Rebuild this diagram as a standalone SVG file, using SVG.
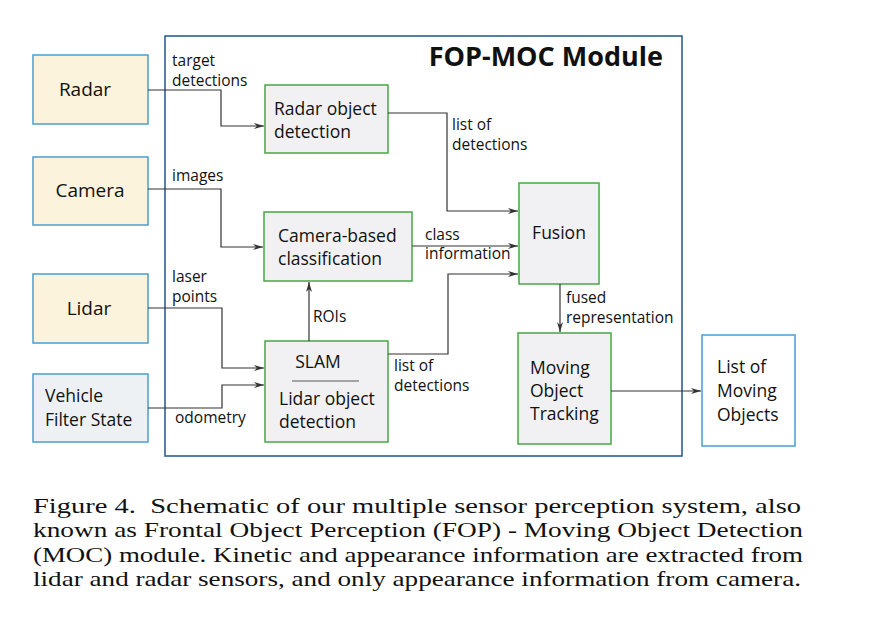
<svg xmlns="http://www.w3.org/2000/svg" width="875" height="633" viewBox="0 0 875 633">
<style>
.sensor{fill:#fcf3dc;stroke:#4b9fd1;stroke-width:1.5}
.vfs{fill:#eef1f3;stroke:#4b9fd1;stroke-width:1.5}
.proc{fill:#f1f1f3;stroke:#46a846;stroke-width:1.5}
.out{fill:#ffffff;stroke:#4b9fd1;stroke-width:1.5}
.mod{fill:#ffffff;stroke:#1f5592;stroke-width:1.5}
.t{font-family:"Open Sans","Noto Sans",sans-serif;fill:#111}
.big{font-size:19px}
.nd{font-size:17.5px}
.lb{font-size:15.5px}
.title{font-family:"Open Sans","Noto Sans",sans-serif;font-size:27px;font-weight:bold;fill:#111}
.cap{font-family:"Liberation Serif","Times New Roman",serif;font-size:22px;fill:#111}
.c{fill:none;stroke:#333;stroke-width:1.2;marker-end:url(#ah)}
</style>
<defs>
<marker id="ah" viewBox="0 0 10 6" refX="10" refY="3" markerWidth="10" markerHeight="6" markerUnits="userSpaceOnUse" orient="auto">
<path d="M0,0 L10,3 L0,6 L3,3 z" fill="#333"/>
</marker>
</defs>
<rect width="875" height="633" fill="#ffffff"/>
<g id="module">
<rect class="mod" x="165" y="36" width="517" height="420"/>
<text class="title" x="663" y="66" text-anchor="end">FOP-MOC Module</text>
</g>
<g id="radar"><rect class="sensor" x="33" y="55" width="115" height="69"/><text class="t big" x="85" y="96" text-anchor="middle">Radar</text></g>
<g id="camera"><rect class="sensor" x="33" y="157" width="115" height="68"/><text class="t big" x="90" y="197" text-anchor="middle">Camera</text></g>
<g id="lidar"><rect class="sensor" x="33" y="274" width="115" height="69"/><text class="t big" x="89" y="315" text-anchor="middle">Lidar</text></g>
<g id="vehicle"><rect class="vfs" x="33" y="374" width="115" height="68"/><text class="t nd" x="45" y="402">Vehicle</text><text class="t nd" x="45" y="426">Filter State</text></g>
<g id="radar-det"><rect class="proc" x="265" y="85" width="123" height="68"/><text class="t nd" x="274" y="115">Radar object</text><text class="t nd" x="274" y="138">detection</text></g>
<g id="camera-cls"><rect class="proc" x="264" y="212" width="148" height="69"/><text class="t nd" x="278" y="242">Camera-based</text><text class="t nd" x="278" y="265">classification</text></g>
<g id="slam"><rect class="proc" x="265" y="341" width="123" height="101"/><text class="t nd" x="318" y="368" text-anchor="middle">SLAM</text><line x1="292" y1="381" x2="359" y2="381" stroke="#888" stroke-width="1.5"/><text class="t nd" x="279" y="405">Lidar object</text><text class="t nd" x="279" y="428">detection</text></g>
<g id="fusion"><rect class="proc" x="519" y="183" width="80" height="101"/><text class="t nd" x="559" y="239" text-anchor="middle">Fusion</text></g>
<g id="mot"><rect class="proc" x="518" y="333" width="93" height="111"/><text class="t nd" x="530" y="374">Moving</text><text class="t nd" x="530" y="397">Object</text><text class="t nd" x="530" y="420">Tracking</text></g>
<g id="list"><rect class="out" x="702" y="335" width="93" height="111"/><text class="t nd" x="717" y="373">List of</text><text class="t nd" x="717" y="397">Moving</text><text class="t nd" x="717" y="421">Objects</text></g>
<g id="connectors">
<path class="c" d="M148,90 H221 V126 H264"/>
<path class="c" d="M148,189 H221 V247 H263"/>
<path class="c" d="M148,308 H222 V368 H264"/>
<path class="c" d="M148,408 H222 V385 H264"/>
<path class="c" d="M309,341 V282"/>
<path class="c" d="M388,113 H447 V211 H518"/>
<path class="c" d="M412,246 H518"/>
<path class="c" d="M388,354 H448 V274 H518"/>
<path class="c" d="M560,284 V332"/>
<path class="c" d="M611,391 H701"/>
<text class="t lb" x="172" y="66">target</text><text class="t lb" x="172" y="86">detections</text>
<text class="t lb" x="172" y="181">images</text>
<text class="t lb" x="172" y="282">laser</text><text class="t lb" x="172" y="302">points</text>
<text class="t lb" x="175" y="423">odometry</text>
<text class="t lb" x="313" y="322">ROIs</text>
<text class="t lb" x="452" y="130">list of</text><text class="t lb" x="452" y="150">detections</text>
<text class="t lb" x="425" y="240">class</text><text class="t lb" x="425" y="259">information</text>
<text class="t lb" x="394" y="371">list of</text><text class="t lb" x="394" y="391">detections</text>
<text class="t lb" x="566" y="303">fused</text><text class="t lb" x="566" y="323">representation</text>
</g>
<g id="caption">
<text class="cap" x="33" y="513" textLength="768" lengthAdjust="spacingAndGlyphs" xml:space="preserve">Figure 4.  Schematic of our multiple sensor perception system, also</text>
<text class="cap" x="33" y="537" textLength="770" lengthAdjust="spacingAndGlyphs">known as Frontal Object Perception (FOP) - Moving Object Detection</text>
<text class="cap" x="33" y="562" textLength="770" lengthAdjust="spacingAndGlyphs">(MOC) module. Kinetic and appearance information are extracted from</text>
<text class="cap" x="33" y="586" textLength="768" lengthAdjust="spacingAndGlyphs">lidar and radar sensors, and only appearance information from camera.</text>
</g>
</svg>
